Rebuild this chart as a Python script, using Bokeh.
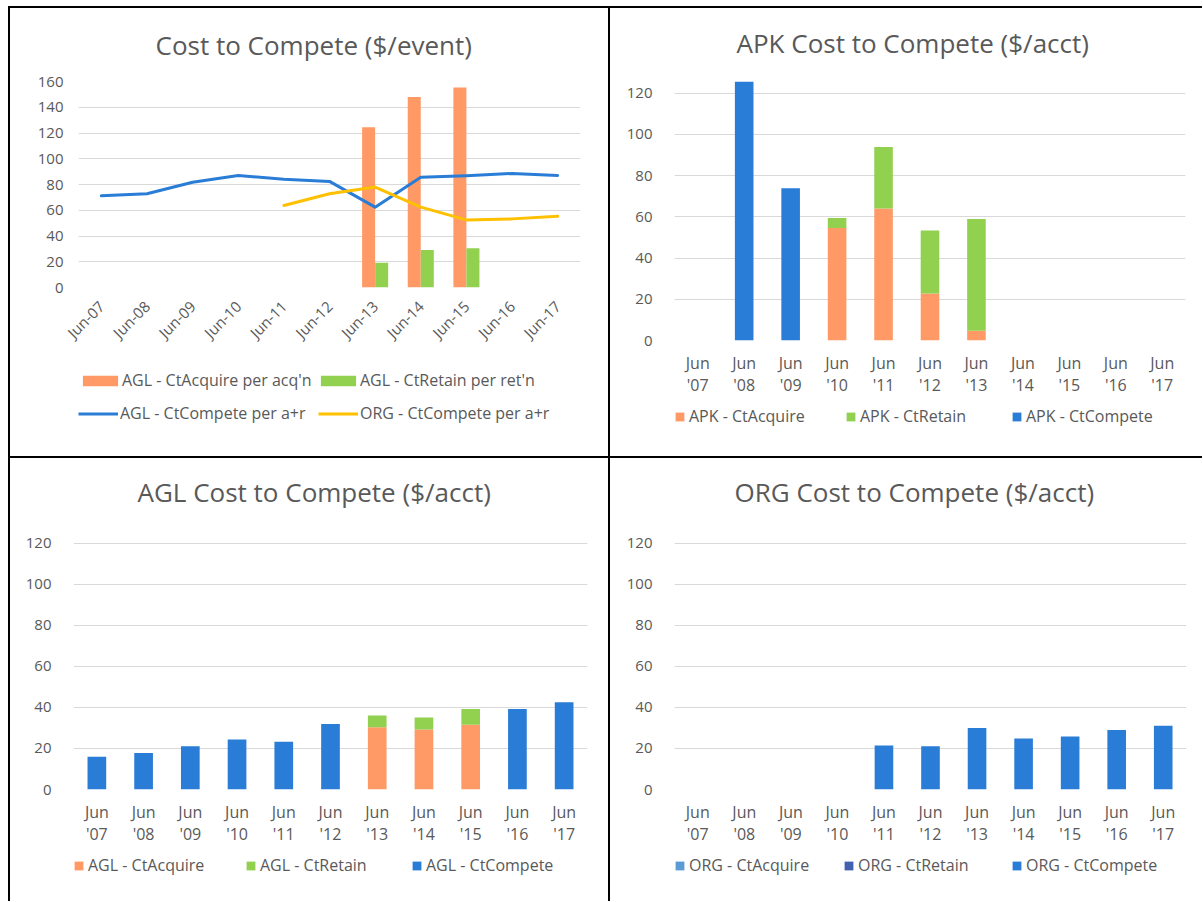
import math
from bokeh.plotting import figure
from bokeh.models import (ColumnDataSource, FactorRange, Range1d, Legend, LegendItem,
                          FixedTicker)
from bokeh.layouts import row, column
from bokeh.transform import dodge
from bokeh.embed import file_html
from bokeh.resources import INLINE

nan = float("nan")

# ---------------- data ----------------
years = ["07", "08", "09", "10", "11", "12", "13", "14", "15", "16", "17"]
cats = ["Jun-" + y for y in years]                 # panel 1 categories
cats2 = ["Jun\n'" + y for y in years]              # panels 2-4: two-line labels

# Panel 1: Cost to Compete ($/event)
agl_acq_per_acqn = [0, 0, 0, 0, 0, 0, 124.4, 147.9, 155.4, 0, 0]
agl_ret_per_retn = [0, 0, 0, 0, 0, 0, 19.2, 29.1, 30.4, 0, 0]
agl_compete_per_ar = [71.2, 72.8, 81.8, 87.0, 84.0, 82.4, 62.4, 85.7, 86.8, 88.6, 87.0]
org_compete_per_ar = [nan, nan, nan, nan, 63.7, 72.8, 78.0, 62.4, 52.5, 53.3, 55.4]

# Panel 2: APK ($/acct)
apk_acquire = [0, 0, 0, 54.6, 64.0, 22.8, 4.7, 0, 0, 0, 0]
apk_retain = [0, 0, 0, 4.8, 29.9, 30.6, 54.2, 0, 0, 0, 0]
apk_compete = [0, 125.5, 73.9, 0, 0, 0, 0, 0, 0, 0, 0]

# Panel 3: AGL ($/acct)
agl_acquire = [0, 0, 0, 0, 0, 0, 30.3, 29.2, 31.5, 0, 0]
agl_retain = [0, 0, 0, 0, 0, 0, 5.7, 5.8, 7.7, 0, 0]
agl_compete = [15.9, 17.8, 21.1, 24.3, 23.3, 31.9, 0, 0, 0, 39.2, 42.5]

# Panel 4: ORG ($/acct)
org_acquire = [0] * 11
org_retain = [0] * 11
org_compete = [0, 0, 0, 0, 21.4, 21.1, 30.0, 24.8, 25.8, 29.0, 31.0]

# ---------------- style ----------------
FONT = "Open Sans"
TXT = "#595959"
GRID = "#D9D9D9"
ORANGE = "#FF9966"
GREEN = "#92D050"
BLUE = "#2A7DD6"
YELLOW = "#FFC000"
LBLUE = "#5B9BD5"
DBLUE = "#4262B0"
WHITE_BG = {"background-color": "white"}


def base_fig(width, height, ml, mr, mt, mb, xr, ymax, yticks, title, title_offset,
             title_standoff, title_valign, ystandoff):
    p = figure(width=width, height=height, x_range=xr, y_range=Range1d(0, ymax),
               output_backend="svg", toolbar_location=None,
               min_border_left=ml, min_border_right=mr,
               min_border_top=mt, min_border_bottom=mb, title=title,
               outline_line_color=None, styles=WHITE_BG)
    p.title.align = "left"
    p.title.vertical_align = title_valign
    p.title.offset = title_offset
    p.title.standoff = title_standoff
    p.title.text_font = FONT
    p.title.text_font_size = "26px"
    p.title.text_font_style = "normal"
    p.title.text_color = TXT
    p.border_fill_color = "white"
    p.background_fill_color = "white"
    p.xgrid.grid_line_color = None
    p.ygrid.grid_line_color = GRID
    p.ygrid.grid_line_width = 1
    p.yaxis.ticker = FixedTicker(ticks=yticks)
    for ax in (p.xaxis, p.yaxis):
        ax.axis_line_color = None
        ax.major_tick_line_color = None
        ax.minor_tick_line_color = None
        ax.major_tick_out = 0
        ax.major_tick_in = 0
        ax.major_label_text_font = FONT
        ax.major_label_text_color = TXT
    p.yaxis.major_label_text_font_size = "15px"
    p.yaxis.major_label_standoff = ystandoff
    p.xaxis.major_label_text_font_size = "16px"
    return p


def legend_fig(width, height, factors):
    # legend strip: hidden copies of the data renderers supply the legend swatches
    f = figure(width=width, height=height, x_range=FactorRange(*factors),
               y_range=Range1d(-2, -1), x_axis_location=None, y_axis_location=None,
               min_border=0, toolbar_location=None, output_backend="svg",
               outline_line_color=None, styles=WHITE_BG)
    f.grid.visible = False
    f.border_fill_color = "white"
    f.background_fill_color = "white"
    return f


def add_item(f, label, renderer, x, y, gw, gh, standoff):
    f.add_layout(Legend(items=[LegendItem(label=label, renderers=[renderer])],
                        location=(x, y), orientation="horizontal",
                        glyph_width=gw, glyph_height=gh, label_standoff=standoff,
                        padding=0, margin=0, spacing=0,
                        border_line_color=None, background_fill_alpha=0,
                        label_text_font=FONT, label_text_font_size="16px",
                        label_text_color=TXT, label_height=gh), "center")


# ---------------- panel 1 ----------------
src1 = ColumnDataSource(dict(cat=cats, acq=agl_acq_per_acqn, ret=agl_ret_per_retn,
                             agl=agl_compete_per_ar, org=org_compete_per_ar))
p1 = base_fig(598, 350, 68, 28, 73, 71, FactorRange(*cats), 160,
              list(range(0, 161, 20)), "Cost to Compete ($/event)", 77, 33, "top", 15)
p1.vbar(x=dodge("cat", -0.143, range=p1.x_range), top="acq", width=0.285,
        source=src1, fill_color=ORANGE, line_color=None)
p1.vbar(x=dodge("cat", 0.143, range=p1.x_range), top="ret", width=0.285,
        source=src1, fill_color=GREEN, line_color=None)
p1.line(x="cat", y="agl", source=src1, line_color=BLUE, line_width=3,
        line_join="round", line_cap="round")
p1.line(x="cat", y="org", source=src1, line_color=YELLOW, line_width=3,
        line_join="round", line_cap="round")
p1.xaxis.major_label_orientation = math.pi / 4
p1.xaxis.major_label_text_font_size = "15px"
p1.xaxis.major_label_standoff = 16

l1 = legend_fig(598, 98, cats)
g_acq = l1.vbar(x="cat", top="acq", width=0.285, source=src1,
                fill_color=ORANGE, line_color=None, visible=False)
g_ret = l1.vbar(x="cat", top="ret", width=0.285, source=src1,
                fill_color=GREEN, line_color=None, visible=False)
g_agl = l1.line(x="cat", y="agl", source=src1, line_color=BLUE, line_width=3,
                visible=False)
g_org = l1.line(x="cat", y="org", source=src1, line_color=YELLOW, line_width=3,
                visible=False)
add_item(l1, "AGL - CtAcquire per acq'n", g_acq, 0, 65, 44, 13, 0)
add_item(l1, "AGL - CtRetain per ret'n", g_ret, 238, 65, 44, 13, 0)
add_item(l1, "AGL - CtCompete per a+r", g_agl, 0, 32, 40, 13, 2)
add_item(l1, "ORG - CtCompete per a+r", g_org, 240, 32, 40, 13, 2)


def stacked_panel(width, height, lheight, ml, mr, mt, mb, title, toff, tstand, series,
                  colors, labels, leg_x, leg_y):
    src = ColumnDataSource(dict(cat=cats2, a=series[0], b=series[1], c=series[2]))
    p = base_fig(width, height, ml, mr, mt, mb, FactorRange(*cats2), 130,
                 list(range(0, 121, 20)), title, toff, tstand, "bottom", 22)
    p.vbar_stack(["a", "b", "c"], x="cat", width=0.4, source=src,
                 fill_color=colors, line_color=None)
    p.xaxis.major_label_standoff = 11
    p.xaxis.major_label_text_line_height = 1.0
    lf = legend_fig(width, lheight, cats2)
    gs = lf.vbar_stack(["a", "b", "c"], x="cat", width=0.4, source=src,
                       fill_color=colors, line_color=None, visible=False)
    for g, lab, lx in zip(gs, labels, leg_x):
        add_item(lf, lab, g, lx, leg_y, 11, 11, 4)
    return column(p, lf, spacing=0)


c2 = stacked_panel(592, 392, 56, 64, 17, 64, 60, "APK Cost to Compete ($/acct)", 62, 24,
                   [apk_acquire, apk_retain, apk_compete], [ORANGE, GREEN, BLUE],
                   ["APK - CtAcquire", "APK - CtRetain", "APK - CtCompete"],
                   [0, 171, 337], 29)
c3 = stacked_panel(598, 391, 52, 63, 21, 64, 60, "AGL Cost to Compete ($/acct)", 64, 25,
                   [agl_acquire, agl_retain, agl_compete], [ORANGE, GREEN, BLUE],
                   ["AGL - CtAcquire", "AGL - CtRetain", "AGL - CtCompete"],
                   [0, 172, 338], 25)
c4 = stacked_panel(592, 391, 52, 64, 16, 64, 60, "ORG Cost to Compete ($/acct)", 60, 25,
                   [org_acquire, org_retain, org_compete], [LBLUE, DBLUE, BLUE],
                   ["ORG - CtAcquire", "ORG - CtRetain", "ORG - CtCompete"],
                   [0, 169, 337], 25)

c1 = column(p1, l1, spacing=0)
top = row(c1, c2, spacing=2, margin=(2, 0, 0, 2))
bottom = row(c3, c4, spacing=2, margin=(0, 0, 0, 2))
layout = column(top, bottom, spacing=2, margin=(6, 0, 0, 8),
                styles={"background-color": "black"})

open("out.html", "w").write(file_html(layout, INLINE))
